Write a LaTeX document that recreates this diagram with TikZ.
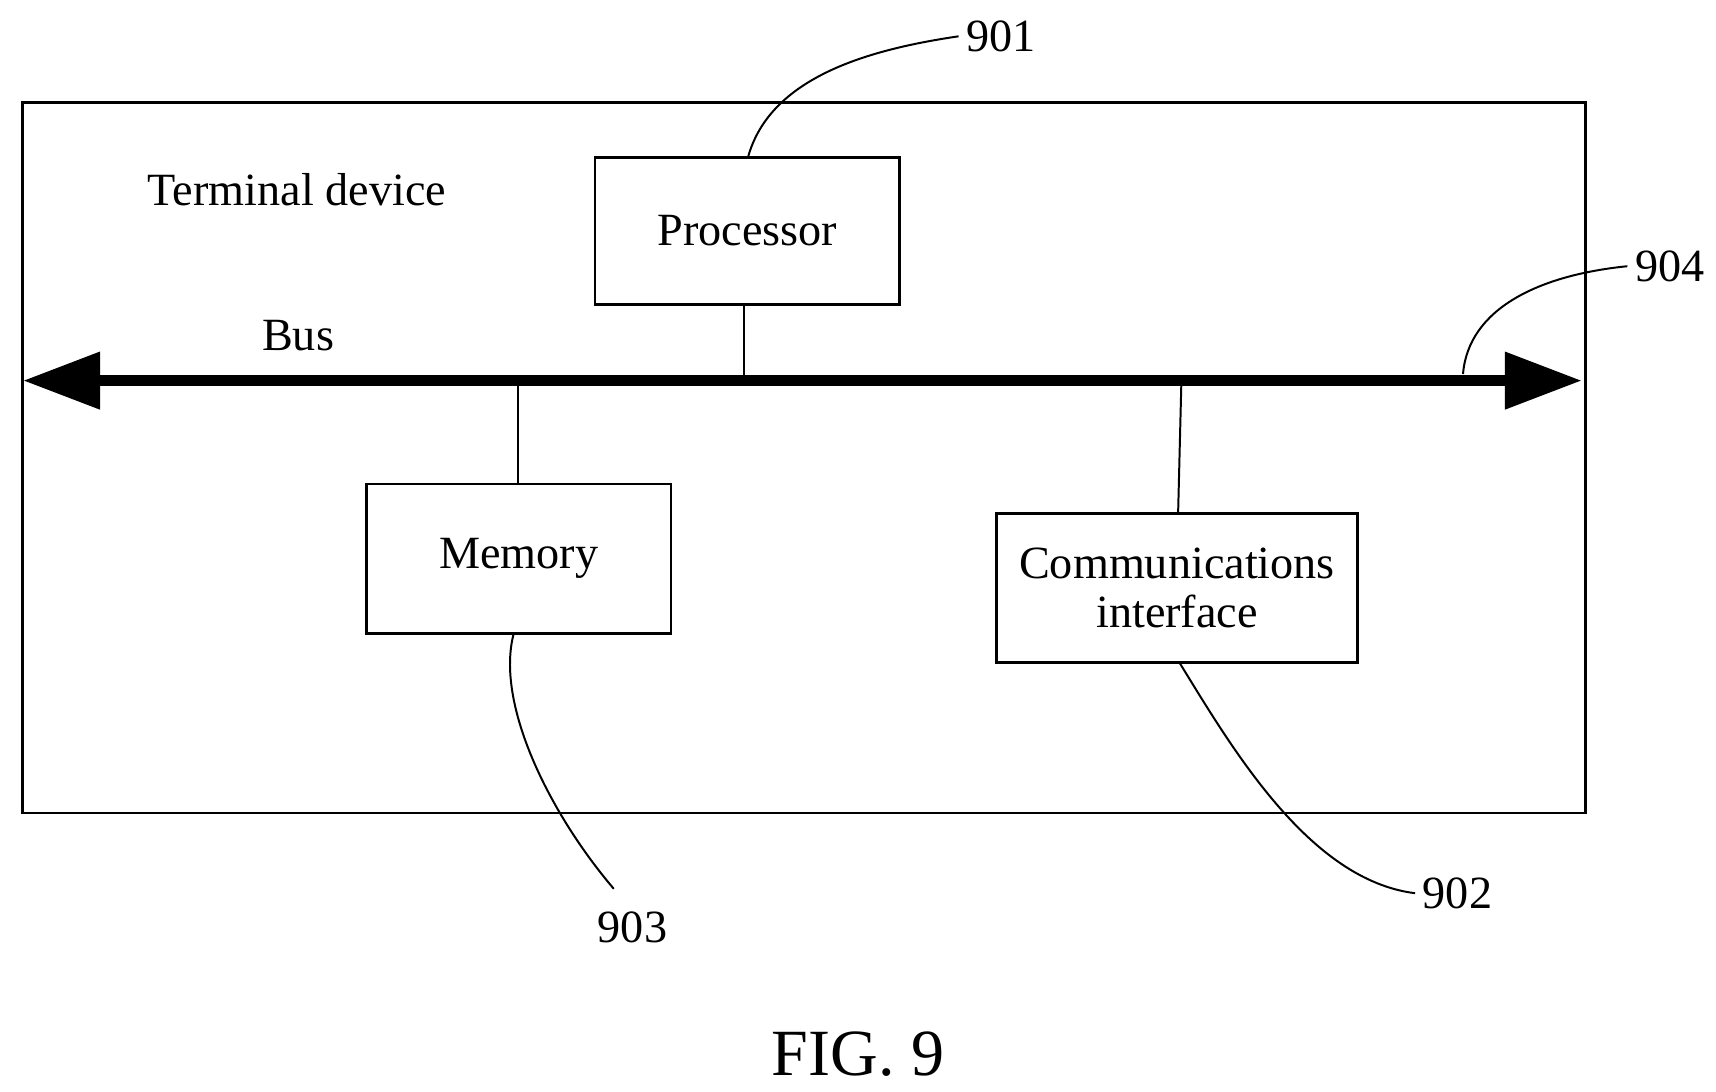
\documentclass[tikz,border=0pt]{standalone}
\usepackage{fontspec}
\setmainfont{Liberation Serif}
\usetikzlibrary{arrows.meta}
\begin{document}
\begin{tikzpicture}[x=0.5pt,y=-0.5pt,
  box/.style={draw,line width=1.2pt,inner sep=0pt},
  lbl/.style={font=\fontsize{21}{24}\selectfont},
  thin/.style={line width=0.9pt}]
\useasboundingbox (0,0) rectangle (1560,992);
\node[box,minimum width=1421*0.5pt,minimum height=646*0.5pt,anchor=north west] (dev) at (19,92) {};
\node[lbl] (td) at (270,172) {Terminal device};
\node[box,lbl,minimum width=277*0.5pt,minimum height=134*0.5pt] (proc) at (679.5,210) {Processor};
\node[box,lbl,minimum width=277*0.5pt,minimum height=136*0.5pt] (mem) at (471.5,508) {Memory};
\node[box,lbl,minimum width=328*0.5pt,minimum height=135*0.5pt,align=center] (comm) at (1070,534.5) {Communications\\[-2pt]interface};
\coordinate (bl) at (21,346);
\coordinate (br) at (1438,346);
\draw[line width=5pt,{Triangle[length=35pt,width=25pt]}-{Triangle[length=35pt,width=25pt]}] (bl) -- (br);
\node[lbl] (bus) at (271,305) {Bus};
\coordinate (pb) at (676,346);
\coordinate (mb) at (471,346);
\coordinate (cb) at (1074,346);
\draw[thin] (proc.south -| pb) -- (pb);
\draw[thin] (mb) -- (mem.north -| mb);
\draw[thin] (cb) -- (1071,467);
\node[lbl] (n901) at (910,33) {901};
\node[lbl] (n904) at (1518,242) {904};
\node[lbl] (n903) at (575,843) {903};
\node[lbl] (n902) at (1325,812) {902};
\node[font=\fontsize{30}{34}\selectfont] (fig) at (780,958) {FIG. 9};
\draw[thin] (680,143) .. controls (700,70) and (790,45) .. (n901.west);
\draw[thin] (1330,340) .. controls (1335,280) and (1400,250) .. (n904.west);
\draw[thin] (467,576) .. controls (450,640) and (500,740) .. (558,808);
\draw[thin] (1072,602) .. controls (1120,680) and (1190,800) .. (n902.west);
\end{tikzpicture}
\end{document}
